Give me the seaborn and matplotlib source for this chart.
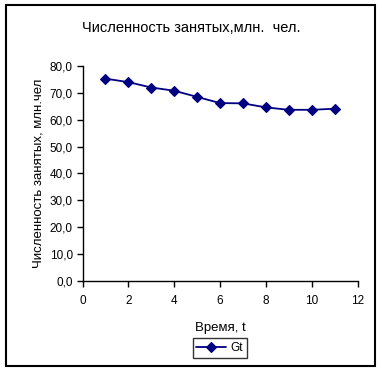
import numpy as np
import pandas as pd
import matplotlib
matplotlib.use("Agg")
import matplotlib.pyplot as plt
import seaborn as sns
from matplotlib.patches import Rectangle
from matplotlib.ticker import FuncFormatter

# Data
t_values = [1, 2, 3, 4, 5, 6, 7, 8, 9, 10, 11]
gt_values = [75.3, 74.0, 72.0, 70.8, 68.5, 66.2, 66.1, 64.6, 63.7, 63.7, 64.1]
x_ticks = [0, 2, 4, 6, 8, 10, 12]
y_ticks = [0, 10, 20, 30, 40, 50, 60, 70, 80]

title_text = "Численность занятых,млн.  чел."
x_label = "Время, t"
y_label = "Численность занятых, млн.чел"
series_name = "Gt"

sns.set_style("ticks")
plt.rcParams['font.family'] = ['Liberation Sans', 'DejaVu Sans']
plt.rcParams['text.color'] = 'black'
plt.rcParams['axes.labelcolor'] = 'black'
plt.rcParams['xtick.color'] = 'black'
plt.rcParams['ytick.color'] = 'black'

df = pd.DataFrame({"t": t_values, "Gt": gt_values})

fig = plt.figure(figsize=(3.82, 3.73), dpi=100)
ax = fig.add_axes([0.216, 0.247, 0.72, 0.576])

sns.lineplot(data=df, x="t", y="Gt", ax=ax, color="#000080", marker="D",
             markersize=5, markeredgewidth=0.8, markeredgecolor="#000080",
             linewidth=1.3, label=series_name)

ax.set_xlim(0, 12)
ax.set_ylim(0, 80)
ax.set_xticks(x_ticks)
ax.set_yticks(y_ticks)
ax.yaxis.set_major_formatter(FuncFormatter(lambda v, p: f"{v:.1f}".replace(".", ",")))
ax.tick_params(axis="both", labelsize=8.5, length=4, width=1, color="black")
ax.tick_params(axis="x", pad=6)
ax.tick_params(axis="y", pad=3)
for side in ["top", "right"]:
    ax.spines[side].set_visible(False)
for side in ["left", "bottom"]:
    ax.spines[side].set_linewidth(1)
    ax.spines[side].set_color("black")

ax.set_xlabel(x_label, fontsize=9.5, labelpad=11)
ax.set_ylabel(y_label, fontsize=9.5, labelpad=4)
fig.text(0.5, 0.925, title_text, ha="center", va="center", fontsize=10.5)

ax.legend_.remove()
leg = fig.legend(*ax.get_legend_handles_labels(), loc="center",
                 bbox_to_anchor=(0.575, 0.067), fontsize=8.5, frameon=True,
                 fancybox=False, handlelength=2.5, borderpad=0.3,
                 handletextpad=0.4)
leg.get_frame().set_edgecolor("black")
leg.get_frame().set_linewidth(1)

fig.patches.append(Rectangle((6 / 382, 1 - 366 / 373), 369 / 382, 361 / 373,
                             transform=fig.transFigure, fill=False,
                             edgecolor="black", linewidth=1.5))

fig.savefig("out.png", dpi=100)
